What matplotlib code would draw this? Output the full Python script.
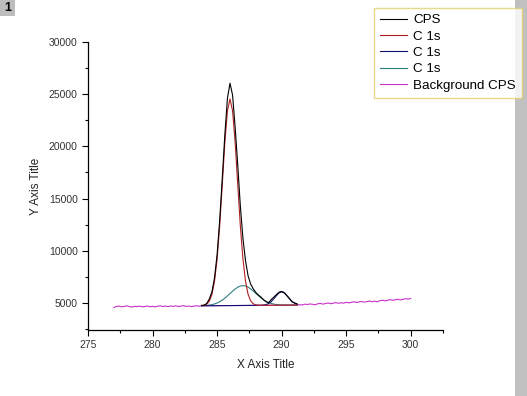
import numpy as np
import matplotlib
matplotlib.use('Agg')
import matplotlib.pyplot as plt
from matplotlib.patches import Rectangle

plt.rcParams['font.family'] = ['Liberation Sans', 'DejaVu Sans']

# binding energy grid of the fitted region (0.2 eV step)
be_fit = np.round(np.arange(283.8, 291.21, 0.2), 1)

cps = [4760, 4780, 4950, 5380, 6050, 7400, 9600, 12900, 16900, 21100,
       24600, 26050, 24900, 21800, 18200, 14300, 11200, 9050, 7600, 6800,
       6350, 6000, 5750, 5550, 5300, 5100, 5020, 5330, 5560, 5800,
       6020, 6100, 5980, 5700, 5420, 5100, 5000, 4900]

c1s_a = [4736, 4773, 4884, 5162, 5797, 7065, 9206, 12373, 16335, 20337,
         23389, 24541, 23392, 20344, 16346, 12388, 9225, 7088, 5824, 5192,
         4918, 4810, 4777, 4768, 4765, 4767, 4769, 4771, 4773, 4774,
         4776, 4778, 4780, 4782, 4784, 4786, 4788, 4790]

c1s_b = [4720, 4722, 4724, 4726, 4727, 4729, 4731, 4733, 4735, 4737,
         4739, 4741, 4742, 4744, 4746, 4748, 4750, 4752, 4754, 4756,
         4758, 4759, 4761, 4771, 4791, 4839, 4942, 5127, 5396, 5703,
         5957, 6058, 5961, 5711, 5407, 5142, 4961, 4862]

c1s_c = [4731, 4743, 4762, 4791, 4833, 4898, 4988, 5109, 5263, 5450,
         5664, 5894, 6121, 6331, 6500, 6610, 6650, 6614, 6508, 6343,
         6137, 5912, 5686, 5476, 5293, 5143, 5026, 4940, 4879, 4839,
         4814, 4799, 4791, 4788, 4787, 4787, 4788, 4790]

# background: raw data outside the fit window + linear baseline inside
be_bg_left = np.round(np.arange(277.0, 283.61, 0.2), 1)
bg_left = [4560, 4650, 4700, 4620, 4660, 4720, 4640, 4600, 4670, 4640,
           4690, 4620, 4650, 4700, 4630, 4670, 4610, 4680, 4720, 4650,
           4690, 4640, 4700, 4660, 4720, 4650, 4690, 4730, 4660, 4700,
           4640, 4690, 4720, 4680]
be_base = [283.8, 291.2]
base = [4720, 4790]
be_bg_right = np.round(np.arange(291.4, 300.01, 0.2), 1)
bg_right = [4830, 4790, 4880, 4840, 4900, 4860, 4820, 4910, 4950, 4880,
            4940, 4990, 4920, 4970, 5030, 4960, 5010, 4970, 5060, 5000,
            5050, 5110, 5040, 5090, 5130, 5070, 5120, 5180, 5110, 5160,
            5100, 5200, 5260, 5190, 5250, 5310, 5240, 5300, 5350, 5280,
            5340, 5400, 5360, 5420]

be_bg = np.concatenate([be_bg_left, be_base, be_bg_right])
bg = np.concatenate([bg_left, base, bg_right])

fig = plt.figure(figsize=(5.27, 3.96), dpi=100)
ax = fig.add_axes([88 / 527, 66 / 396, 355 / 527, 288 / 396])

ax.plot(be_bg, bg, color='#C832C8', lw=0.8, label='Background CPS', zorder=1)
ax.plot(be_fit, c1s_c, color='#2E7D7D', lw=0.8, label='C 1s', zorder=2)
ax.plot(be_fit, c1s_b, color='#101070', lw=0.8, label='C 1s', zorder=2)
ax.plot(be_fit, c1s_a, color='#B02020', lw=0.8, label='C 1s', zorder=3)
ax.plot(be_fit, cps, color='black', lw=0.8, label='CPS', zorder=4)

ax.set_xlim(275, 302.5)
ax.set_ylim(2400, 30000)
ax.set_xticks([275, 280, 285, 290, 295, 300])
ax.set_xticks([277.5, 282.5, 287.5, 292.5, 297.5, 302.5], minor=True)
ax.set_yticks([5000, 10000, 15000, 20000, 25000, 30000])
ax.set_yticks([2500, 7500, 12500, 17500, 22500, 27500], minor=True)
ax.tick_params(which='major', direction='out', length=4.5, width=0.8,
               labelsize=7.5, labelcolor='#333333', pad=3)
ax.tick_params(which='minor', direction='out', length=2.3, width=0.8)
for s in ['top', 'right']:
    ax.spines[s].set_visible(False)
for s in ['left', 'bottom']:
    ax.spines[s].set_linewidth(0.9)

ax.set_xlabel('X Axis Title', fontsize=8.5, color='#222222', labelpad=6)
ax.set_ylabel('Y Axis Title', fontsize=8.5, color='#222222', labelpad=5)

# legend in the order of the original
h, l = ax.get_legend_handles_labels()
order = [4, 3, 2, 1, 0]
leg = fig.legend([h[i] for i in order], [l[i] for i in order],
                 loc='upper left', bbox_to_anchor=(374 / 527, 1 - 8 / 396),
                 fontsize=9.6, frameon=True, fancybox=False, handlelength=2.0,
                 handletextpad=0.5, labelspacing=0.3, borderpad=0.45,
                 borderaxespad=0)
leg.get_frame().set_edgecolor('#E0D070')
leg.get_frame().set_linewidth(1.0)
leg.set_zorder(10)

# grey strip on the right and page number box
fig.patches.append(Rectangle((515 / 527, 0), 12 / 527, 1, transform=fig.transFigure,
                             facecolor='#C0C0C0', edgecolor='none', zorder=0))
fig.patches.append(Rectangle((0, 1 - 16 / 396), 15 / 527, 16 / 396, transform=fig.transFigure,
                             facecolor='#BDBDBD', edgecolor='none', zorder=0))
fig.text(4 / 527, 1 - 8 / 396, '1', fontsize=9, fontweight='bold', va='center', ha='left')

fig.savefig('out.png', dpi=100)
